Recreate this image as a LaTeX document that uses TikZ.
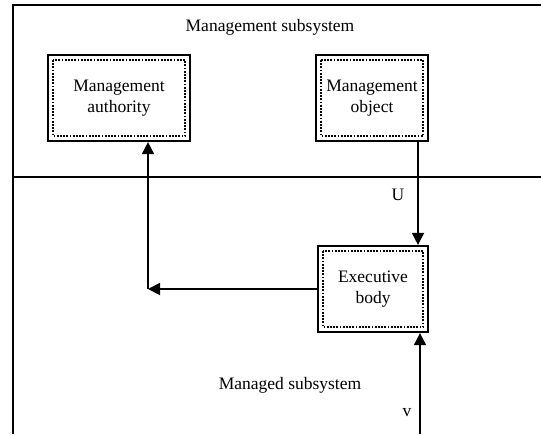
\documentclass[tikz,border=0pt]{standalone}
\usepackage{fontspec}
\setmainfont{Liberation Serif}
\usetikzlibrary{calc,arrows.meta}

\tikzset{
  unit/.style={draw,line width=2.2pt,align=center,inner sep=0pt},
  inner/.style={line width=1.8pt,dash pattern=on 1.8pt off 1.4pt},
  flow/.style={line width=1.8pt,-{Triangle[length=12pt,width=12pt]}},
  frame/.style={line width=1.6pt}
}

\begin{document}
\begin{tikzpicture}[x=1pt,y=-1pt,font=\fontsize{17.5}{21}\selectfont]
		\useasboundingbox (0,0) rectangle (541,434);

		% outer frame and split line
		\draw[frame] (541,5) -- (13,5) -- (13,434);
		\draw[frame] (13,177) -- (541,177);
		\node (top) at (270,27) {Management subsystem};
		\node (bot) at (290,385) {Managed subsystem};

		% blocks
		\node[unit,minimum width=142pt,minimum height=86pt] (auth) at (119,98) {Management\\authority};
		\node[unit,minimum width=112pt,minimum height=86pt] (obj) at (372,98) {Management\\object};
		\node[unit,minimum width=110pt,minimum height=86pt] (exec) at (373,289) {Executive\\body};
		\foreach \n in {auth,obj,exec}
			\draw[inner] ([shift={(6pt,-6pt)}]\n.north west) rectangle ([shift={(-6pt,6pt)}]\n.south east);

		\coordinate (uline) at (418,0);
		\coordinate (vin) at (420,434);
		\coordinate (fb) at (148,289);

		% links
		\draw[flow] (obj.south -| uline) -- (exec.north -| uline);
		\draw[flow] (vin) -- (exec.south -| vin);
		\draw[flow] (exec.west) -- (fb);
		\draw[flow] (fb) -- (auth.south -| fb);

		\node (u) at (398,195) {U};
		\node (v) at (407,413) {v};
\end{tikzpicture}
\end{document}
